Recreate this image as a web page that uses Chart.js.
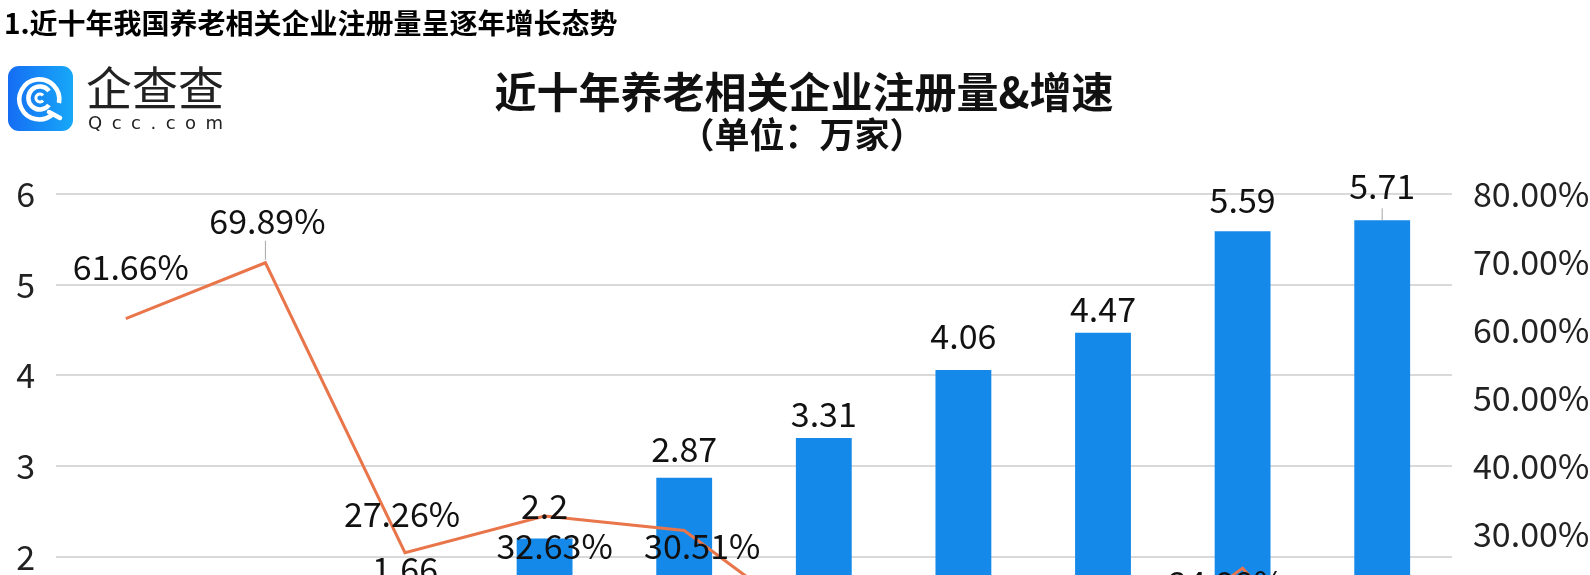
<!DOCTYPE html>
<html>
<head>
<meta charset="utf-8">
<script src="https://cdn.jsdelivr.net/npm/chart.js@4.4.0/dist/chart.umd.min.js"></script>
<style>
  html, body { margin: 0; padding: 0; background: #fff; overflow: hidden; }
  body { width: 1590px; height: 575px; position: relative; font-family: "Noto Sans CJK SC", sans-serif; }
  .txt { position: absolute; white-space: nowrap; line-height: 1; color: #111; }
  #heading { left: 4px; top: 8px; font-size: 28px; font-weight: bold; color: #000; }
  #title { left: 0; width: 1608px; text-align: center; top: 69px; font-size: 42px; font-weight: bold; }
  #subtitle { left: 0; width: 1604px; text-align: center; top: 115px; font-size: 35px; font-weight: bold; }
  #brand { left: 86px; top: 62px; font-size: 46px; color: #222; }
  #brandUrl { left: 88px; top: 114px; font-size: 18px; letter-spacing: 9.5px; color: #222; font-family: "DejaVu Sans", sans-serif; }
  #logo { position: absolute; left: 8px; top: 66px; }
  #wrap { position: absolute; left: 0; top: 0; width: 1590px; height: 800px; }
</style>
</head>
<body>
<div id="wrap"><canvas id="chart"></canvas></div>
<div class="txt" id="heading">1.近十年我国养老相关企业注册量呈逐年增长态势</div>
<svg id="logo" width="65" height="65" viewBox="0 0 65 65">
  <defs>
    <linearGradient id="lg" x1="0" y1="0" x2="1" y2="0">
      <stop offset="0" stop-color="#156df4"/>
      <stop offset="1" stop-color="#17a8f8"/>
    </linearGradient>
  </defs>
  <rect width="65" height="65" rx="11" fill="url(#lg)"/>
  <path d="M 45 48 A 20 20 0 1 1 51 37" fill="none" stroke="#fff" stroke-width="4.5"/>
  <path d="M 41 25 A 11.5 11.5 0 1 0 41 39" fill="none" stroke="#fff" stroke-width="4.5"/>
  <path d="M 35 29.5 A 4 4 0 1 0 35 34.5" fill="none" stroke="#fff" stroke-width="3"/>
  <path d="M 41 46 L 52 52" stroke="#fff" stroke-width="4.5" stroke-linecap="round"/>
</svg>
<div class="txt" id="brand">企查查</div>
<div class="txt" id="brandUrl">Qcc.com</div>
<div class="txt" id="title">近十年养老相关企业注册量&amp;增速</div>
<div class="txt" id="subtitle">（单位：万家）</div>
<script>
window.addEventListener('DOMContentLoaded', () => {
  // Data
  const years = ["2012", "2013", "2014", "2015", "2016", "2017", "2018", "2019", "2020", "2021"];
  const registrations = [0.77, 1.30, 1.66, 2.2, 2.87, 3.31, 4.06, 4.47, 5.59, 5.71];
  const growthRates = [61.66, 69.89, 27.26, 32.63, 30.51, 15.33, 22.66, 10.10, 24.98, 2.15];
  const leftTicks = [0, 6, 1];
  const rightTicks = [0, 80, 10];

  // Label placement (offset from mark, px)
  const barLabelDy = [-30, -30, -18, -32, -29, -24, -34, -24, -31, -34];
  const lineLabelOffsets = [
    [5, -52], [2, -42], [-3, -39], [10, 30], [18, 16],
    [0, 32], [0, 32], [0, 32], [-16, 15], [0, 32]
  ];
  const barLeaders = [9];
  const lineLeaders = [1];

  const barColor = "#1589E9";
  const lineColor = "#E9754B";
  const labelFont = '34px "Noto Sans CJK SC"';

  const labelPlugin = {
    id: "valueLabels",
    afterDatasetsDraw(chart) {
      const ctx = chart.ctx;
      ctx.save();
      ctx.font = labelFont;
      ctx.fillStyle = "#111";
      ctx.textAlign = "center";
      ctx.textBaseline = "middle";
      ctx.strokeStyle = "#a6a6a6";
      ctx.lineWidth = 1;

      chart.getDatasetMeta(0).data.forEach((bar, i) => {
        const y = bar.y + barLabelDy[i];
        if (barLeaders.includes(i)) {
          ctx.beginPath();
          ctx.moveTo(bar.x, y + 22);
          ctx.lineTo(bar.x, bar.y);
          ctx.stroke();
        }
        ctx.fillText(String(registrations[i]), bar.x, y);
      });

      chart.getDatasetMeta(1).data.forEach((pt, i) => {
        const x = pt.x + lineLabelOffsets[i][0];
        const y = pt.y + lineLabelOffsets[i][1];
        if (lineLeaders.includes(i)) {
          ctx.beginPath();
          ctx.moveTo(pt.x, y + 20);
          ctx.lineTo(pt.x, pt.y - 3);
          ctx.stroke();
        }
        ctx.fillText(growthRates[i].toFixed(2) + "%", x, y);
      });
      ctx.restore();
    }
  };

  const tickFont = { family: "Noto Sans CJK SC", size: 34 };

  new Chart(document.getElementById("chart"), {
    data: {
      labels: years,
      datasets: [{
        type: "bar",
        label: "注册量",
        data: registrations,
        backgroundColor: barColor,
        barPercentage: 0.4,
        categoryPercentage: 1,
        yAxisID: "y",
        order: 2
      }, {
        type: "line",
        label: "增速",
        data: growthRates,
        borderColor: lineColor,
        borderWidth: 3,
        pointRadius: 0,
        tension: 0,
        yAxisID: "y1",
        order: 1
      }]
    },
    options: {
      responsive: true,
      maintainAspectRatio: false,
      animation: false,
      layout: { padding: { top: 194, left: 0, right: 0, bottom: 0 } },
      plugins: {
        legend: { display: false },
        tooltip: { enabled: false }
      },
      scales: {
        x: {
          grid: { display: false },
          border: { display: false },
          ticks: { color: "#222", font: tickFont },
          afterFit: (s) => { s.height = 62; }
        },
        y: {
          position: "left",
          min: leftTicks[0],
          max: leftTicks[1],
          ticks: { stepSize: leftTicks[2], color: "#222", font: tickFont, padding: 21 },
          grid: { color: "#d9d9d9", lineWidth: 2, drawTicks: false },
          border: { display: false },
          afterFit: (s) => { s.width = 56; }
        },
        y1: {
          position: "right",
          min: rightTicks[0],
          max: rightTicks[1],
          ticks: {
            stepSize: rightTicks[2],
            color: "#222",
            font: tickFont,
            padding: 21,
            callback: (v) => v.toFixed(2) + "%"
          },
          grid: { display: false, drawTicks: false },
          border: { display: false },
          afterFit: (s) => { s.width = 138; }
        }
      }
    },
    plugins: [labelPlugin]
  });
});
</script>
</body>
</html>
